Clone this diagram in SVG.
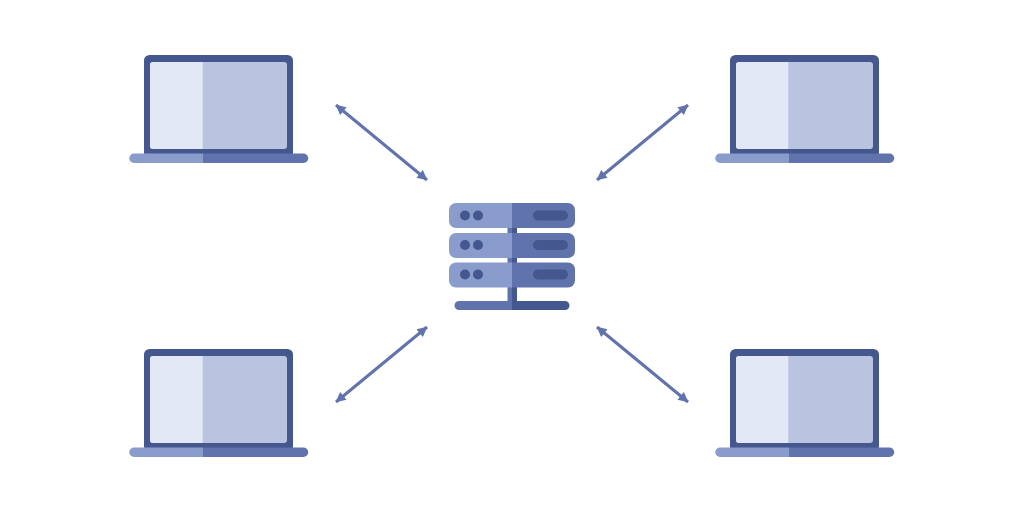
<svg xmlns="http://www.w3.org/2000/svg" width="1024" height="512" viewBox="0 0 1024 512">
<defs>
<marker id="ah" viewBox="0 0 11 11" refX="10.500" refY="5.500" markerUnits="userSpaceOnUse" markerWidth="11" markerHeight="11" orient="auto-start-reverse"><path d="M1 0.500L11 5.500L1 10.500Z" fill="#6173ad"/></marker>
<g id="laptop">
<rect x="144" y="55" width="149" height="103" rx="5.500" fill="#45578f"/>
<rect x="150" y="62" width="137" height="87" rx="3" fill="#b9c4e0"/>
<path d="M203 153.500H134a4.750 4.750 0 0 0 0 9.500H203Z" fill="#8a9ccb"/>
<path d="M203 153.500H303.500a4.750 4.750 0 0 1 0 9.500H203Z" fill="#6173ad"/>
</g>
<path id="panel" d="M202.700 62H153a3 3 0 0 0-3 3V146a3 3 0 0 0 3 3H202.700Z" fill="#e3e8f7"/>
<path id="panel-r" d="M788.300 62H739a3 3 0 0 0-3 3V146a3 3 0 0 0 3 3H788.300Z" fill="#e3e8f7"/>
</defs>
<style>.c{stroke:#6173ad;stroke-width:3;fill:none;marker-start:url(#ah);marker-end:url(#ah)}.l{fill:#8a9ccb}.d{fill:#6173ad}.k{fill:#45578f}</style>
<rect width="1024" height="512" fill="#fff"/>
<g id="connectors">
<line class="c" x1="336" y1="105" x2="427" y2="180"/>
<line class="c" x1="688" y1="105" x2="597" y2="180"/>
<line class="c" x1="336" y1="402" x2="427" y2="327"/>
<line class="c" x1="688" y1="402" x2="597" y2="327"/>
</g>
<g id="laptop-top-left"><use href="#laptop"/><use href="#panel"/></g>
<g id="laptop-top-right"><use href="#laptop" x="586"/><use href="#panel-r"/></g>
<g id="laptop-bottom-left"><use href="#laptop" y="294"/><use href="#panel" y="294"/></g>
<g id="laptop-bottom-right"><use href="#laptop" x="586" y="294"/><use href="#panel-r" y="294"/></g>
<g id="server">
<rect x="507.500" y="225" width="5" height="78" class="d"/>
<rect x="512" y="225" width="5" height="78" class="k"/>
<path d="M512 301H459a4 4 0 0 0 0 9H512Z" class="d"/>
<path d="M512 301H565a4 4 0 0 1 0 9H512Z" class="k"/>
<g id="unit-1"><path d="M512 203H456a7 7 0 0 0-7 7V221a7 7 0 0 0 7 7H512Z" class="l"/><path d="M512 203H568a7 7 0 0 1 7 7V221a7 7 0 0 1-7 7H512Z" class="d"/><circle cx="465" cy="215.500" r="5" class="k"/><circle cx="478" cy="215.500" r="5" class="k"/><rect x="533" y="210.500" width="35" height="10" rx="5" class="k"/></g>
<g id="unit-2"><path d="M512 233H456a7 7 0 0 0-7 7V251a7 7 0 0 0 7 7H512Z" class="l"/><path d="M512 233H568a7 7 0 0 1 7 7V251a7 7 0 0 1-7 7H512Z" class="d"/><circle cx="465" cy="245" r="5" class="k"/><circle cx="478" cy="245" r="5" class="k"/><rect x="533" y="240" width="35" height="10" rx="5" class="k"/></g>
<g id="unit-3"><path d="M512 262.500H456a7 7 0 0 0-7 7V280.500a7 7 0 0 0 7 7H512Z" class="l"/><path d="M512 262.500H568a7 7 0 0 1 7 7V280.500a7 7 0 0 1-7 7H512Z" class="d"/><circle cx="465" cy="274.500" r="5" class="k"/><circle cx="478" cy="274.500" r="5" class="k"/><rect x="533" y="269.500" width="35" height="10" rx="5" class="k"/></g>
</g>
</svg>
